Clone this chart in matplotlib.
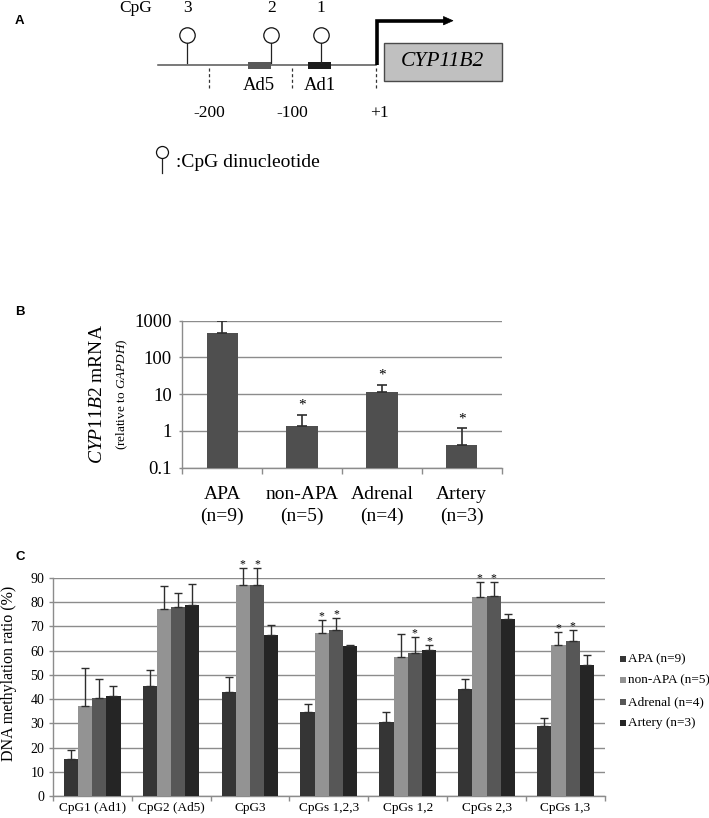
import matplotlib
matplotlib.use("Agg")
import matplotlib.pyplot as plt
from matplotlib.patches import Rectangle, Polygon
import numpy as np

plt.rcParams['font.family'] = ['Liberation Serif', 'DejaVu Serif']
plt.rcParams['mathtext.fontset'] = 'custom'
plt.rcParams['mathtext.rm'] = 'Liberation Serif'
plt.rcParams['mathtext.it'] = 'Liberation Serif:italic'

# ---------------- data ----------------
# Panel A: promoter map (positions in bp relative to transcription start)
cpg_labels = ["3", "2", "1"]
cpg_pos = [-227, -126, -66]
ad_names = ["Ad5", "Ad1"]
ad_start = [-154, -81]
ad_end = [-126, -53]
scale_ticks = [-200, -100, 1]
scale_labels = ["-200", "-100", "+1"]
line_start = -262
gene_start, gene_end = 10, 152
gene_name = "CYP11B2"

# Panel B: CYP11B2 mRNA (log scale)
b_groups = ["APA\n(n=9)", "non-APA\n(n=5)", "Adrenal\n(n=4)", "Artery\n(n=3)"]
b_values = [460, 1.39, 11.1, 0.416]
b_err = [530, 1.29, 6.5, 0.76]
b_sig = [False, True, True, True]
b_ticks = [0.1, 1, 10, 100, 1000]
b_ticklabels = ["0.1", "1", "10", "100", "1000"]

# Panel C: DNA methylation ratio (%)
c_sites = ["CpG1 (Ad1)", "CpG2 (Ad5)", "CpG3", "CpGs 1,2,3", "CpGs 1,2", "CpGs 2,3", "CpGs 1,3"]
c_series = ["APA (n=9)", "non-APA (n=5)", "Adrenal (n=4)", "Artery (n=3)"]
c_apa = [15.2, 45.6, 42.8, 34.6, 30.5, 44.3, 28.9]
c_apa_err = [3.7, 6.3, 6.5, 3.3, 4.2, 4.0, 3.5]
c_nonapa = [37.3, 77.2, 87.2, 67.1, 57.4, 82.3, 62.2]
c_nonapa_err = [15.5, 9.3, 6.8, 5.7, 9.6, 6.2, 5.6]
c_adrenal = [40.4, 78.0, 87.3, 68.5, 59.2, 82.7, 63.9]
c_adrenal_err = [8.0, 6.0, 7.0, 5.0, 6.6, 5.5, 4.6]
c_artery = [41.4, 79.0, 66.4, 62.1, 60.4, 72.9, 54.1]
c_artery_err = [4.2, 8.4, 4.2, 0.3, 2.0, 2.1, 4.2]
c_sig_nonapa = [0, 0, 1, 1, 0, 1, 1]
c_sig_adrenal = [0, 0, 1, 1, 1, 1, 1]
c_sig_artery = [0, 0, 0, 0, 1, 0, 0]

# ---------------- layout ----------------
W, H, DPI = 709, 818, 100
fig = plt.figure(figsize=(W / DPI, H / DPI), dpi=DPI)
fig.patch.set_facecolor('white')

def fx(px):
    return px / W

def fy(py):
    return 1 - py / H

GRID = '#8c8c8c'
SANS = ['Liberation Sans', 'DejaVu Sans']

# panel letters
for lab, (px, py) in zip("ABC", [(19.5, 21), (20, 312), (20.5, 557.5)]):
    fig.text(fx(px), fy(py), lab, family=SANS, fontweight='bold', fontsize=9.5,
             ha='center', va='center')

# ---------------- Panel A ----------------
PX_PER_BP = 0.83
TSS_PX = 376.2
def bp(px):
    return 1 + (px - TSS_PX) / PX_PER_BP

HA = 190
ax_a = fig.add_axes([0, fy(HA), 1, HA / H])
ax_a.set_xlim(bp(0), bp(W))
ax_a.set_ylim(HA, 0)
ax_a.axis('off')

LINE_Y = 65.3
CIRC_Y = 35.0
CIRC_R = 7.7
# main DNA line
ax_a.plot([line_start, 1], [LINE_Y, LINE_Y], color='#555555', lw=1.1, zorder=1)
# Ad boxes
ad_cols = ['#595959', '#1c1c1c']
for s, e, c, name in zip(ad_start, ad_end, ad_cols, ad_names):
    ax_a.add_patch(Rectangle((s, LINE_Y - 3.2), e - s, 6.6, fc=c, ec=c, lw=0, zorder=2))
    ax_a.text((s + e) / 2, 86, name, ha='center', va='center', fontsize=13.5)
# stems + circles
for p, lab in zip(cpg_pos, cpg_labels):
    ax_a.plot([p, p], [CIRC_Y + CIRC_R, LINE_Y - 2.5], color='#222222', lw=0.9, zorder=2)
    ax_a.text(p + 0.5, 7.5, lab, ha='center', va='center', fontsize=12.5)
ax_a.plot(cpg_pos, [CIRC_Y] * len(cpg_pos), 'o', ms=2 * CIRC_R * 0.72, mfc='white',
          mec='#111111', mew=0.9, zorder=3)
ax_a.text(bp(135.5), 7.5, "CpG", ha='center', va='center', fontsize=12.5)
# dashed scale marks
ax_a.vlines(scale_ticks, 68, 89, colors='#333333', lw=0.9, linestyles=(0, (2.5, 2)))
for t, lab in zip(scale_ticks, scale_labels):
    dx = 4 if lab == "+1" else 0
    ax_a.text(t + dx, 113, lab, ha='center', va='center', fontsize=12.5)
# gene box
ax_a.add_patch(Rectangle((gene_start, 42.7), gene_end - gene_start, 38, fc='#c0c0c0',
                         ec='#4a4a4a', lw=1.0, zorder=2))
ax_a.text((gene_start + gene_end) / 2, 62, gene_name, style='italic', ha='center',
          va='center', fontsize=15.5, zorder=3)
# transcription start arrow
ARR_Y = 20.7
ax_a.plot([1.5, 1.5, 84], [LINE_Y, ARR_Y, ARR_Y], color='black', lw=2.6,
          solid_joinstyle='miter', solid_capstyle='butt', zorder=4)
ax_a.add_patch(Polygon([[82, ARR_Y - 4.2], [93.5, ARR_Y], [82, ARR_Y + 4.2]],
                       closed=True, fc='black', ec='black', lw=0.5, zorder=4))
# legend lollipop
lx = bp(162)
ax_a.plot([lx, lx], [151.7 + 6, 173.3], color='#222222', lw=0.9)
ax_a.plot([lx], [151.7], 'o', ms=12 * 0.72, mfc='white', mec='#111111', mew=0.9)
ax_a.text(bp(175.5), 162.7, ":CpG dinucleotide", ha='left', va='center', fontsize=14)

# ---------------- Panel B ----------------
BL, BR, BT, BB = 182.3, 501.7, 320.6, 467.7
ax_b = fig.add_axes([fx(BL), fy(BB), (BR - BL) / W, (BB - BT) / H])
xb = np.arange(len(b_groups))
ax_b.set_yscale('log')
ax_b.bar(xb, b_values, width=0.392, color='#4f4f4f', zorder=3)
ax_b.errorbar(xb, b_values, yerr=[np.zeros(len(b_err)), b_err], fmt='none',
              ecolor='#2e2e2e', elinewidth=1.2, capsize=3.6, capthick=1.2, zorder=4)
for xi, v, e, s in zip(xb, b_values, b_err, b_sig):
    if s:
        ax_b.annotate('*', xy=(xi, v + e), xytext=(0, 4.5), textcoords='offset points',
                      ha='center', va='baseline', fontsize=11)
ax_b.set_ylim(0.1, 1000)
ax_b.set_xlim(-0.5, len(b_groups) - 0.5)
ax_b.set_yticks(b_ticks)
ax_b.set_yticklabels(b_ticklabels)
ax_b.yaxis.set_minor_locator(matplotlib.ticker.NullLocator())
ax_b.set_xticks(xb)
ax_b.set_xticklabels(b_groups, fontsize=14, linespacing=1.4)
ax_b.set_xticks(np.arange(len(b_groups) + 1) - 0.5, minor=True)
ax_b.tick_params(axis='x', which='major', length=0, pad=13)
ax_b.tick_params(axis='x', which='minor', length=4.3, width=1, color=GRID, direction='out')
ax_b.tick_params(axis='y', which='major', length=2.5, width=1, color=GRID, labelsize=13.5, pad=5)
ax_b.grid(axis='y', which='major', color=GRID, lw=1.0, zorder=0)
for side in ['top', 'right']:
    ax_b.spines[side].set_visible(False)
for side in ['left', 'bottom']:
    ax_b.spines[side].set_color(GRID)
    ax_b.spines[side].set_linewidth(1.0)
fig.text(fx(97), fy((BT + BB) / 2), r"$\mathit{CYP11B2}$ mRNA", rotation=90,
         ha='center', va='center', fontsize=14)
fig.text(fx(122), fy((BT + BB) / 2), r"(relative to $\mathit{GAPDH}$)", rotation=90,
         ha='center', va='center', fontsize=9.5)

# ---------------- Panel C ----------------
CL, CR, CT, CB = 52.7, 605, 578, 796
ax_c = fig.add_axes([fx(CL), fy(CB), (CR - CL) / W, (CB - CT) / H])
xc = np.arange(len(c_sites))
c_vals = [c_apa, c_nonapa, c_adrenal, c_artery]
c_errs = [c_apa_err, c_nonapa_err, c_adrenal_err, c_artery_err]
c_sigs = [[0] * len(c_sites), c_sig_nonapa, c_sig_adrenal, c_sig_artery]
c_colors = ['#353535', '#939393', '#575757', '#252525']
bw = 0.18
for i, (vals, errs, sigs, col) in enumerate(zip(c_vals, c_errs, c_sigs, c_colors)):
    pos = xc + (i - 1.5) * bw
    ax_c.bar(pos, vals, width=bw, color=col, zorder=3)
    ax_c.errorbar(pos, vals, yerr=[np.zeros(len(errs)), errs], fmt='none',
                  ecolor='#2e2e2e', elinewidth=1.0, capsize=2.6, capthick=1.0,
                  zorder=4, clip_on=False)
    for p, v, e, s in zip(pos, vals, errs, sigs):
        if s:
            ax_c.annotate('*', xy=(p, v + e), xytext=(0, 0.5), textcoords='offset points',
                          ha='center', va='baseline', fontsize=8.5, annotation_clip=False)
ax_c.set_ylim(0, 90)
ax_c.set_xlim(-0.5, len(c_sites) - 0.5)
ax_c.set_yticks(np.arange(0, 91, 10))
ax_c.set_xticks(xc)
ax_c.set_xticklabels(c_sites, fontsize=9.5)
ax_c.set_xticks(np.arange(len(c_sites) + 1) - 0.5, minor=True)
ax_c.tick_params(axis='x', which='major', length=0, pad=4.5)
ax_c.tick_params(axis='x', which='minor', length=3.5, width=1, color=GRID, direction='out')
ax_c.tick_params(axis='y', which='major', length=3, width=1, color=GRID, labelsize=10, pad=3)
ax_c.grid(axis='y', color=GRID, lw=1.0, zorder=0)
for side in ['top', 'right']:
    ax_c.spines[side].set_visible(False)
for side in ['left', 'bottom']:
    ax_c.spines[side].set_color(GRID)
    ax_c.spines[side].set_linewidth(1.0)
fig.text(fx(9), fy(673), "DNA methylation ratio (%)", rotation=90, ha='center',
         va='center', fontsize=11.5)

# legend
for i, (name, col) in enumerate(zip(c_series, c_colors)):
    yy = 659 + i * 21.4
    fig.patches.append(Rectangle((fx(620), fy(yy + 3)), 6 / W, 6 / H, fc=col, ec='none',
                                 transform=fig.transFigure, figure=fig))
    fig.text(fx(628.5), fy(yy), name, ha='left', va='center', fontsize=9.5)

fig.savefig("out.png", dpi=DPI, facecolor='white')
